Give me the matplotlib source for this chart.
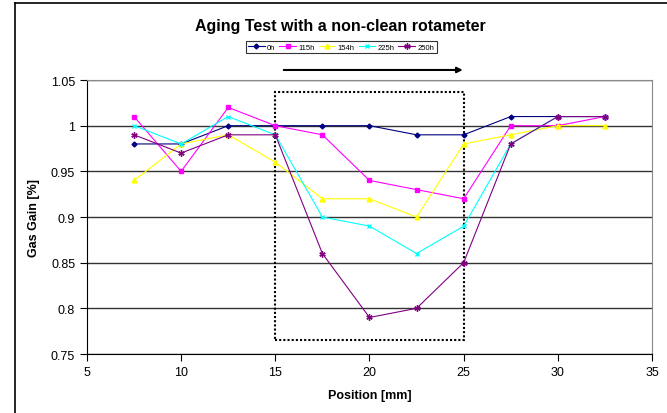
import matplotlib.pyplot as plt
from matplotlib.patches import Rectangle

plt.rcParams['font.family'] = ['Liberation Sans', 'DejaVu Sans']

position = [7.5, 10, 12.5, 15, 17.5, 20, 22.5, 25, 27.5, 30, 32.5]
gain_0h = [0.98, 0.98, 1.00, 1.00, 1.00, 1.00, 0.99, 0.99, 1.01, 1.01, 1.01]
gain_115h = [1.01, 0.95, 1.02, 1.00, 0.99, 0.94, 0.93, 0.92, 1.00, 1.00, 1.01]
gain_154h = [0.94, 0.98, 0.99, 0.96, 0.92, 0.92, 0.90, 0.98, 0.99, 1.00, 1.00]
gain_225h = [1.00, 0.98, 1.01, 0.99, 0.90, 0.89, 0.86, 0.89, 0.98, 1.01, 1.01]
gain_250h = [0.99, 0.97, 0.99, 0.99, 0.86, 0.79, 0.80, 0.85, 0.98, 1.01, 1.01]
labels = ['0h', '115h', '154h', '225h', '250h']

fig = plt.figure(figsize=(6.67, 4.14), dpi=100)
ax = fig.add_axes([0.1304, 0.1425, 0.8471, 0.6618])

# series styles like excel defaults
ax.plot(position, gain_0h, color='#000080', marker='D', ms=2.5, lw=0.8, label=labels[0])
ax.plot(position, gain_115h, color='#FF00FF', marker='s', ms=3.5, lw=0.8, label=labels[1])
ax.plot(position, gain_154h, color='#FFFF00', marker='^', ms=3.5, lw=0.8, label=labels[2])
ax.plot(position, gain_225h, color='#00FFFF', marker='x', ms=3.5, lw=0.8, label=labels[3])
ax.plot(position, gain_250h, color='#800080', marker=(6, 2, 0), ms=4.5, lw=0.8, label=labels[4])

ax.set_xlim(5, 35)
ax.set_ylim(0.75, 1.05)
ax.set_xticks(range(5, 36, 5))
ax.set_yticks([0.75, 0.8, 0.85, 0.9, 0.95, 1.0, 1.05])
ax.set_yticklabels(['0.75', '0.8', '0.85', '0.9', '0.95', '1', '1.05'])
ax.yaxis.grid(True, color='#333333', lw=1)
ax.set_axisbelow(True)
ax.tick_params(direction='out', length=5, labelsize=9, color='black')
ax.spines['top'].set_color('#888888')
ax.spines['right'].set_color('#888888')

ax.set_xlabel('Position [mm]', fontsize=9, fontweight='bold', labelpad=8)
ax.set_ylabel('Gas Gain [%]', fontsize=9, fontweight='bold', labelpad=8)

# dotted region and direction arrow
ax.add_patch(Rectangle((15, 0.765), 10, 0.272, fill=False, ls=(0, (1, 1)), lw=1.5, ec='black'))
ax.annotate('', xy=(25.1, 1.061), xytext=(15.3, 1.061), annotation_clip=False,
            arrowprops=dict(arrowstyle='-|>', color='black', lw=1.5, mutation_scale=8))

fig.text(0.51, 0.937, 'Aging Test with a non-clean rotameter', ha='center', va='center',
         fontsize=11.5, fontweight='bold')

leg = ax.legend(loc='center', bbox_to_anchor=(0.45, 1.12), ncol=5, fontsize=5.5,
                frameon=True, fancybox=False, edgecolor='black', borderpad=0.3,
                handlelength=2.2, columnspacing=0.5, handletextpad=0.3, borderaxespad=0)
leg.get_frame().set_linewidth(0.8)

# figure border (top and left visible)
fig.add_artist(plt.Line2D([0.0225, 1.0], [0.99, 0.99], transform=fig.transFigure, color='black', lw=1.2))
fig.add_artist(plt.Line2D([0.0225, 0.0225], [0.0, 0.99], transform=fig.transFigure, color='black', lw=1.2))

fig.savefig('out.png', dpi=100)
